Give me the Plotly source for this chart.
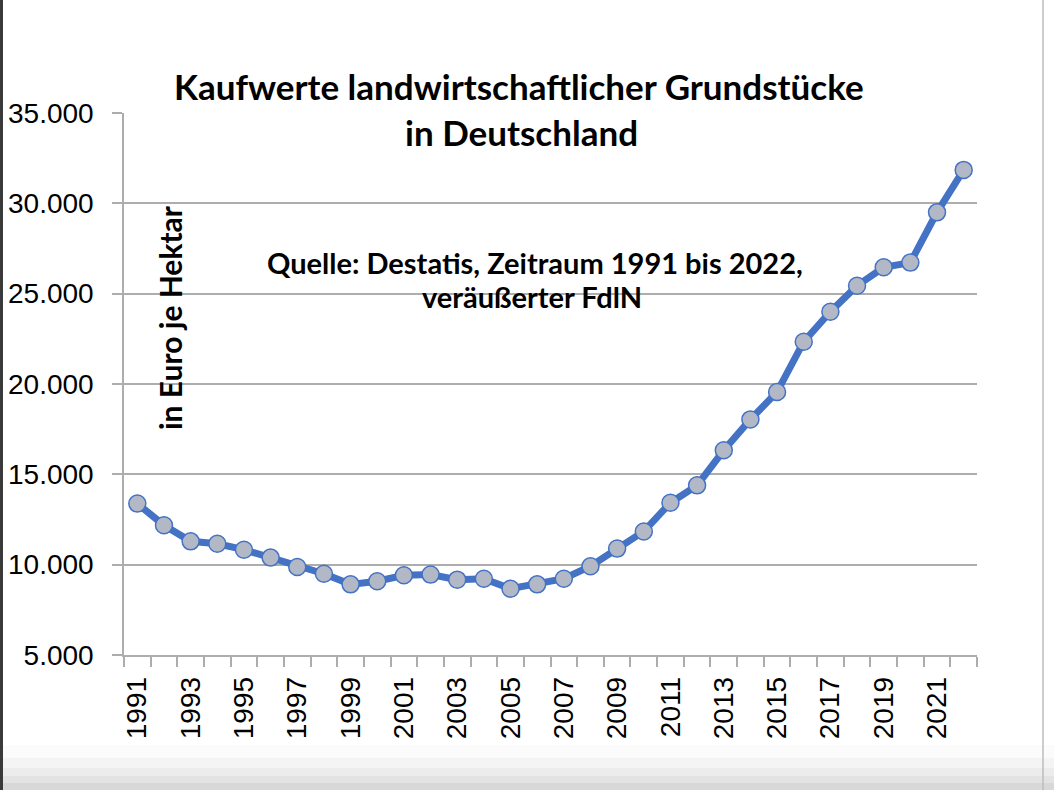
import plotly.graph_objects as go

years = list(range(1991, 2023))
values = [13380, 12180, 11290, 11160, 10830, 10390, 9870, 9500, 8910, 9080,
          9410, 9450, 9170, 9220, 8670, 8910, 9220, 9910, 10890, 11840,
          13430, 14390, 16330, 18040, 19560, 22340, 24000, 25440, 26460, 26720,
          29500, 31850]
label_years = years[::2]
y_ticks = [5000, 10000, 15000, 20000, 25000, 30000, 35000]

title_line1 = "Kaufwerte landwirtschaftlicher Grundstücke"
title_line2 = "in Deutschland"
source_line1 = "Quelle: Destatis, Zeitraum 1991 bis 2022,"
source_line2 = "veräußerter FdlN"
y_label = "in Euro je Hektar"

W, H = 1054, 790
ml, mr, mt, mb = 124, 77, 113, 135
PW, PH = W - ml - mr, H - mt - mb

def px(x):
    return (x - ml) / PW

def py(y):
    return (H - mb - y) / PH

boundaries = [y - 0.5 for y in years] + [years[-1] + 0.5]

fig = go.Figure()
fig.add_trace(go.Scatter(
    x=years, y=values, mode="lines+markers",
    line=dict(color="#4472C4", width=7),
    marker=dict(size=17, color="#B2B8C6", line=dict(color="#4472C4", width=1.5)),
    showlegend=False, hoverinfo="x+y",
))

grid = "#ADADAD"
tickfont = dict(size=28, family="Liberation Sans, Arial, sans-serif", color="black")
fig.update_layout(
    width=W, height=H, autosize=False,
    margin=dict(l=ml, r=mr, t=mt, b=mb, pad=0),
    paper_bgcolor="white", plot_bgcolor="white",
    separators=",.",
    font=dict(family="Liberation Sans, Arial, sans-serif", color="black"),
    xaxis=dict(
        range=[years[0] - 0.5, years[-1] + 0.5],
        tickvals=label_years, ticktext=[str(y) for y in label_years],
        tickangle=-90, ticks="", showgrid=False,
        showline=True, linecolor=grid, linewidth=1.5,
        tickfont=tickfont, ticklabelstandoff=9, automargin=False,
        minor=dict(tickvals=boundaries, ticks="outside", ticklen=10,
                   tickcolor=grid, tickwidth=1.5, showgrid=False),
        zeroline=False, fixedrange=True,
    ),
    yaxis=dict(
        range=[5000, 35000], tickvals=y_ticks, tickformat=",d",
        ticks="outside", ticklen=10, tickcolor=grid, tickwidth=1.5,
        showgrid=True, gridcolor=grid, gridwidth=1.5,
        showline=True, linecolor=grid, linewidth=1.5,
        tickfont=tickfont, ticklabelstandoff=13, automargin=False,
        zeroline=False, fixedrange=True,
    ),
)

bold = "Lato, sans-serif"
def label(text, x, y, size, angle=0):
    fig.add_annotation(text="<b>" + text + "</b>", xref="paper", yref="paper",
                       x=px(x), y=py(y), xanchor="center", yanchor="middle",
                       showarrow=False, textangle=angle,
                       font=dict(family=bold, size=size, color="black"))

label(title_line1, 519, 86, 35)
label(title_line2, 521, 132, 35)
label(source_line1, 535, 262, 29)
label(source_line2, 532, 296, 29)
label(y_label, 170, 318, 30, -90)

# screenshot frame decorations
shapes = [
    dict(type="rect", xref="paper", yref="paper", x0=px(0), x1=px(3),
         y0=py(H), y1=py(0), fillcolor="#3A3A3A", line=dict(width=0), layer="above"),
    dict(type="line", xref="paper", yref="paper", x0=px(1043), x1=px(1043),
         y0=py(H), y1=py(0), line=dict(color="#BDBDBD", width=1.5)),
]
steps = [(745, 758, "#FBFBFB"), (758, 768, "#F4F4F4"), (768, 776, "#ECECEC"),
         (776, 783, "#E3E3E3"), (783, 790, "#D8D8D8")]
for t0, t1, c in steps:
    shapes.append(dict(type="rect", xref="paper", yref="paper",
                       x0=px(0), x1=px(W), y0=py(t1), y1=py(t0),
                       fillcolor=c, line=dict(width=0), layer="below"))
fig.update_layout(shapes=shapes)

post = ("document.body.style.margin='0';document.body.style.padding='0';"
        "document.body.style.overflow='hidden';"
        "document.documentElement.style.overflow='hidden';")
fig.write_html("out.html", post_script=post, config={"displayModeBar": False})
